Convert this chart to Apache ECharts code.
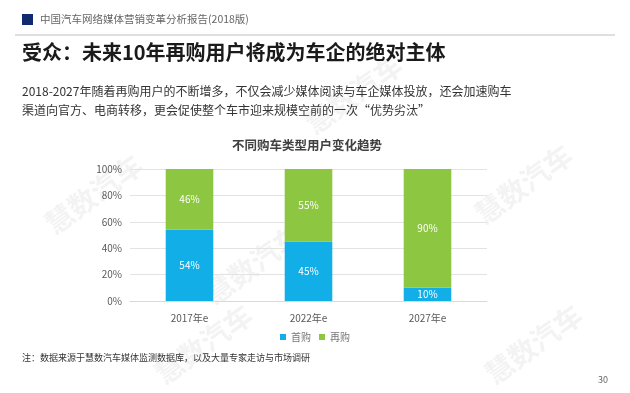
<!DOCTYPE html>
<html><head><meta charset="utf-8">
<script src="https://cdn.jsdelivr.net/npm/echarts@6/dist/echarts.min.js"></script>
<style>html,body{margin:0;padding:0;background:#fff}#c{width:630px;height:393px}</style>
</head><body><div id="c"></div>
<script>
const categories = ['2017年e', '2022年e', '2027年e'];
const firstBuy = [54, 45, 10];
const rebuy = [46, 55, 90];
const seriesNames = ['首购', '再购'];
const yTicks = [0, 20, 40, 60, 80, 100];

const font = '"Noto Sans CJK SC", "Noto Sans", sans-serif';
const chart = echarts.init(document.getElementById('c'));
const wm = (x, y) => ({type:'text', left:x, top:y, rotation:Math.PI/5, z:-1,
  style:{text:'慧数汽车', fill:'rgba(200,200,200,0.22)', font:'bold 28px ' + font}});
chart.setOption({
  animation:false,
  textStyle:{fontFamily:font},
  title:{text:'不同购车类型用户变化趋势', left:302, textAlign:'center', top:134,
    textStyle:{fontSize:12.5, fontWeight:'bold', color:'#404040', fontFamily:font}},
  legend:{data:seriesNames, bottom:46, left:'center', itemWidth:6, itemHeight:6, itemGap:8,
    icon:'rect', textStyle:{fontSize:10, color:'#777', fontFamily:font}},
  grid:{left:130, right:143, top:169, bottom:92},
  xAxis:{type:'category', data:categories, axisTick:{show:false},
    axisLine:{lineStyle:{color:'#d9d9d9'}},
    axisLabel:{fontSize:10, color:'#595959', margin:12}},
  yAxis:{type:'value', min:0, max:100, interval:20,
    axisLabel:{formatter:'{value}%', fontSize:10, color:'#595959', margin:8},
    splitLine:{lineStyle:{color:'#e3e3e3'}}},
  series:[
    {name:seriesNames[0], type:'bar', stack:'a', data:firstBuy, barWidth:'40%',
     itemStyle:{color:'#11AEE8'},
     label:{show:true, position:'inside', formatter:'{c}%', color:'#fff', fontSize:10}},
    {name:seriesNames[1], type:'bar', stack:'a', data:rebuy, barWidth:'40%',
     itemStyle:{color:'#8DC641'},
     label:{show:true, position:'inside', formatter:'{c}%', color:'#fff', fontSize:10}}
  ],
  graphic:[
    wm(40,150), wm(200,220), wm(470,140), wm(150,300), wm(480,300), wm(300,50),
    {type:'rect', left:22, top:14, shape:{width:11, height:11}, style:{fill:'#0F2B6E'}},
    {type:'text', left:40, top:14, style:{text:'中国汽车网络媒体营销变革分析报告(2018版)', fill:'#666', font:'10.5px ' + font}},
    {type:'line', shape:{x1:15, y1:35, x2:615, y2:35}, style:{stroke:'#bfbfbf', lineWidth:1}},
    {type:'text', left:22, top:42, style:{text:'受众：未来10年再购用户将成为车企的绝对主体', fill:'#1a1a1a', font:'bold 20px ' + font}},
    {type:'text', left:22, top:82, style:{text:'2018-2027年随着再购用户的不断增多，不仅会减少媒体阅读与车企媒体投放，还会加速购车\n渠道向官方、电商转移，更会促使整个车市迎来规模空前的一次“优势劣汰”', fill:'#333', font:'12px ' + font, lineHeight:19}},
    {type:'text', left:22, top:353, style:{text:'注：数据来源于慧数汽车媒体监测数据库，以及大量专家走访与市场调研', fill:'#333', font:'9px ' + font}},
    {type:'text', left:598, top:375, style:{text:'30', fill:'#666', font:'9px ' + font}}
  ]
});
</script></body></html>
